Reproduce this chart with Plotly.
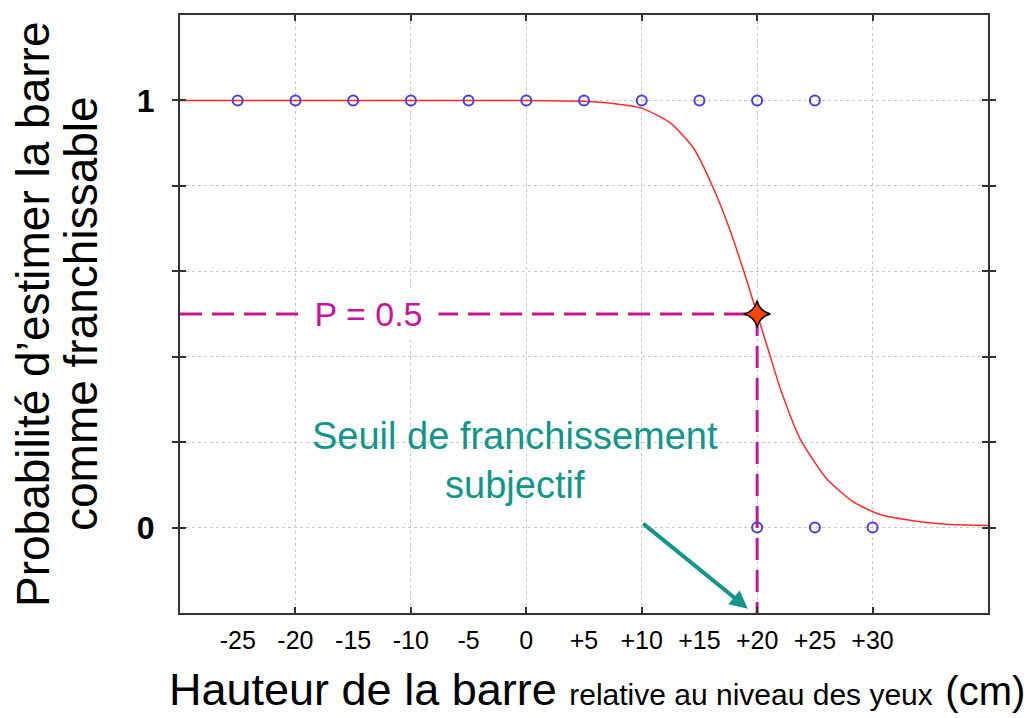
import plotly.graph_objects as go

# ---- data ----
x_ones = [-25, -20, -15, -10, -5, 0, 5, 10, 15, 20, 25]
y_ones = [1] * len(x_ones)
x_zeros = [20, 25, 30]
y_zeros = [0] * len(x_zeros)

curve_x = [-30, 0, 5, 7.5, 10, 12.5, 14.5, 16.2, 17.6, 19, 20, 21, 22, 23.7, 26, 28.3, 30.6, 33.5, 36.4, 40]
curve_y = [1, 1, 0.998, 0.993, 0.982, 0.947, 0.888, 0.795, 0.700, 0.587, 0.500, 0.413, 0.326, 0.209, 0.115, 0.061, 0.031, 0.016, 0.008, 0.005]

threshold_x = 20
threshold_p = 0.5

x_label_vals = [-25, -20, -15, -10, -5, 0, 5, 10, 15, 20, 25, 30]
x_label_text = ["-25", "-20", "-15", "-10", "-5", "0", "+5", "+10", "+15", "+20", "+25", "+30"]
x_grid_vals = [-20, -10, 0, 10, 20, 30]
y_grid_vals = [0, 0.2, 0.4, 0.6, 0.8, 1.0]
y_grid_text = ["0", "", "", "", "", "1"]

X_RANGE = [-30, 40]
Y_RANGE = [-0.2, 1.2]

FONT = "Liberation Sans, Arial, sans-serif"
MAGENTA = "#c8149b"
TEAL = "#12968a"
RED = "#ff2a2a"
BLUE = "#4a3ee0"

fig = go.Figure()

# dashed guide lines
fig.add_trace(go.Scatter(x=[X_RANGE[0], threshold_x], y=[threshold_p, threshold_p], mode="lines",
                         line=dict(color=MAGENTA, width=3, dash="22px,10px"), hoverinfo="skip", showlegend=False))
fig.add_trace(go.Scatter(x=[threshold_x, threshold_x], y=[threshold_p, Y_RANGE[0]], mode="lines",
                         line=dict(color=MAGENTA, width=3, dash="22px,10px"), hoverinfo="skip", showlegend=False))

# fitted curve
fig.add_trace(go.Scatter(x=curve_x, y=curve_y, mode="lines",
                         line=dict(color=RED, width=1.5, shape="spline", smoothing=0.6),
                         showlegend=False))

# observations
fig.add_trace(go.Scatter(x=x_ones + x_zeros, y=y_ones + y_zeros, mode="markers",
                         marker=dict(symbol="circle-open", size=10, color=BLUE, line=dict(width=2, color=BLUE)),
                         showlegend=False))

# threshold star
fig.add_trace(go.Scatter(x=[threshold_x], y=[threshold_p], mode="markers",
                         marker=dict(symbol="star-diamond", size=19, color="#ff4500", line=dict(width=1.5, color="black")),
                         showlegend=False))

# dummy trace for the label axis
fig.add_trace(go.Scatter(x=x_label_vals, y=[None] * len(x_label_vals), xaxis="x2", mode="markers",
                         hoverinfo="skip", showlegend=False))

# page body has an 8px margin: figure is sized/margined so the plot area sits at the reference pixels
fig.update_layout(
    width=1026, height=710,
    margin=dict(l=172, r=46, t=5, b=105),
    paper_bgcolor="white", plot_bgcolor="white",
    font=dict(family=FONT, color="black"),
    xaxis=dict(range=X_RANGE, tickvals=x_grid_vals, showticklabels=False,
               showgrid=True, gridcolor="#c8c8c8", griddash="dot", gridwidth=1,
               zeroline=False, showline=True, linecolor="#333333", linewidth=2, mirror="allticks",
               ticks="inside", ticklen=6, tickwidth=2, tickcolor="#333333"),
    xaxis2=dict(range=X_RANGE, overlaying="x", anchor="y", side="bottom",
                tickvals=x_label_vals, ticktext=x_label_text, showgrid=False, zeroline=False,
                showline=False, ticks="", tickfont=dict(size=25, family=FONT, color="black"),
                ticklabelstandoff=10),
    yaxis=dict(range=Y_RANGE, tickvals=y_grid_vals, ticktext=y_grid_text,
               showgrid=True, gridcolor="#c8c8c8", griddash="dot", gridwidth=1,
               zeroline=False, showline=True, linecolor="#333333", linewidth=2, mirror="allticks",
               ticks="inside", ticklen=6, tickwidth=2, tickcolor="#333333",
               tickfont=dict(size=32, family=FONT, color="black", weight="bold"),
               ticklabelstandoff=17),
)

# P = 0.5 label on the dashed line
fig.add_annotation(x=-13.7, y=threshold_p, xref="x", yref="y", text="\u00a0P = 0.5\u00a0",
                   showarrow=False, bgcolor="white", borderpad=6,
                   font=dict(size=34, color=MAGENTA, family=FONT))

# threshold label
fig.add_annotation(x=-0.95, y=0.157, xref="x", yref="y", text="Seuil de franchissement<br>subjectif",
                   showarrow=False, align="center", font=dict(size=38, color=TEAL, family=FONT))

# arrow
fig.add_annotation(x=19.2, y=-0.19, ax=10, ay=0.012, xref="x", yref="y", axref="x", ayref="y",
                   text="", showarrow=True, arrowhead=2, arrowsize=0.9, arrowwidth=4, arrowcolor=TEAL)

# y-axis title (two lines)
fig.add_annotation(x=-0.1819, y=0.5, xref="paper", yref="paper", xanchor="center", yanchor="middle",
                   text="Probabilité d’estimer la barre", textangle=-90, showarrow=False,
                   font=dict(size=46, family=FONT, color="black"))
fig.add_annotation(x=-0.1225, y=0.5, xref="paper", yref="paper", xanchor="center", yanchor="middle",
                   text="comme franchissable", textangle=-90, showarrow=False,
                   font=dict(size=46, family=FONT, color="black"))

# x-axis title
fig.add_annotation(x=0.516, y=0, xref="paper", yref="paper", xanchor="center", yanchor="top", yshift=-49,
                   text="Hauteur de la barre <span style='font-size:30px'>relative au niveau des yeux</span> "
                        "<span style='font-size:40px'>(cm)</span>",
                   showarrow=False, font=dict(size=45, family=FONT, color="black"))

fig.write_html("out.html")
